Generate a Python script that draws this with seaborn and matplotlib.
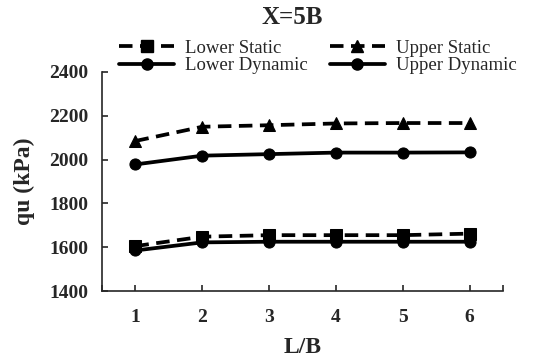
import numpy as np
import pandas as pd
import seaborn as sns
import matplotlib
matplotlib.use("Agg")
import matplotlib.pyplot as plt
from matplotlib.lines import Line2D

# ---- data ----
lb = [1, 2, 3, 4, 5, 6]
lower_static = [1605, 1648, 1655, 1655, 1655, 1662]
upper_static = [2085, 2150, 2157, 2165, 2167, 2167]
lower_dynamic = [1585, 1622, 1625, 1625, 1625, 1625]
upper_dynamic = [1978, 2018, 2025, 2032, 2032, 2033]
series_names = ["Lower Static", "Lower Dynamic", "Upper Static", "Upper Dynamic"]
y_ticks = [1400, 1600, 1800, 2000, 2200, 2400]

df = pd.DataFrame({
    "L/B": lb * 4,
    "qu": lower_static + lower_dynamic + upper_static + upper_dynamic,
    "series": [s for s in series_names for _ in lb],
})

sns.set_style("ticks")
plt.rcParams["font.family"] = ["Liberation Serif", "DejaVu Serif"]

markers = {"Lower Static": "s", "Lower Dynamic": "o",
           "Upper Static": "^", "Upper Dynamic": "o"}
dash = (3.6, 2.0)
dashes = {"Lower Static": dash, "Lower Dynamic": "",
          "Upper Static": dash, "Upper Dynamic": ""}
LW = 2.7
MS = 8

fig = plt.figure(figsize=(5.44, 3.61), dpi=100)
ax = fig.add_axes([102 / 544, 1 - 291 / 361, (503 - 102) / 544, (291 - 72) / 361])

sns.lineplot(data=df, x="L/B", y="qu", style="series", style_order=series_names,
             markers=markers, dashes=dashes, color="black", linewidth=LW,
             markersize=MS, markeredgecolor="black", legend=False, ax=ax)

ax.set_xlim(0.5, 6.5)
ax.set_ylim(1400, 2400)
ax.set_xticks(lb)
ax.set_xticklabels([str(v) for v in lb])
ax.set_xticks([0.5, 6.5], minor=True)
ax.set_yticks(y_ticks)
ax.set_yticklabels([str(v) for v in y_ticks])
for s in ["top", "right"]:
    ax.spines[s].set_visible(False)
for s in ["left", "bottom"]:
    ax.spines[s].set_linewidth(1.2)
ax.tick_params(axis="both", which="both", direction="in", length=4, width=1.2)
ax.tick_params(axis="x", pad=13, labelsize=14)
ax.tick_params(axis="y", pad=10, labelsize=14)
for lab in ax.get_xticklabels() + ax.get_yticklabels():
    lab.set_fontweight("bold")

ax.set_xlabel("L/B", fontsize=17, fontweight="bold", labelpad=8)
ax.set_ylabel("qu (kPa)", fontsize=17, fontweight="bold", labelpad=10)

fig.text(292 / 544, 1 - 18 / 361, "X=5B", ha="center", va="center",
         fontsize=18, fontweight="bold")

handles = []
for name in series_names:
    ls = (0, dash) if dashes[name] else "-"
    handles.append(Line2D([], [], color="black", lw=LW, linestyle=ls,
                          marker=markers[name], markersize=MS))
leg = fig.legend(handles, series_names, ncol=2, loc="center",
                 bbox_to_anchor=(318 / 544, 1 - 57 / 361), frameon=False,
                 fontsize=13.5, handlelength=2.9, handletextpad=0.6,
                 columnspacing=1.2, labelspacing=0.0, borderpad=0)

fig.savefig("out.png", dpi=100)
